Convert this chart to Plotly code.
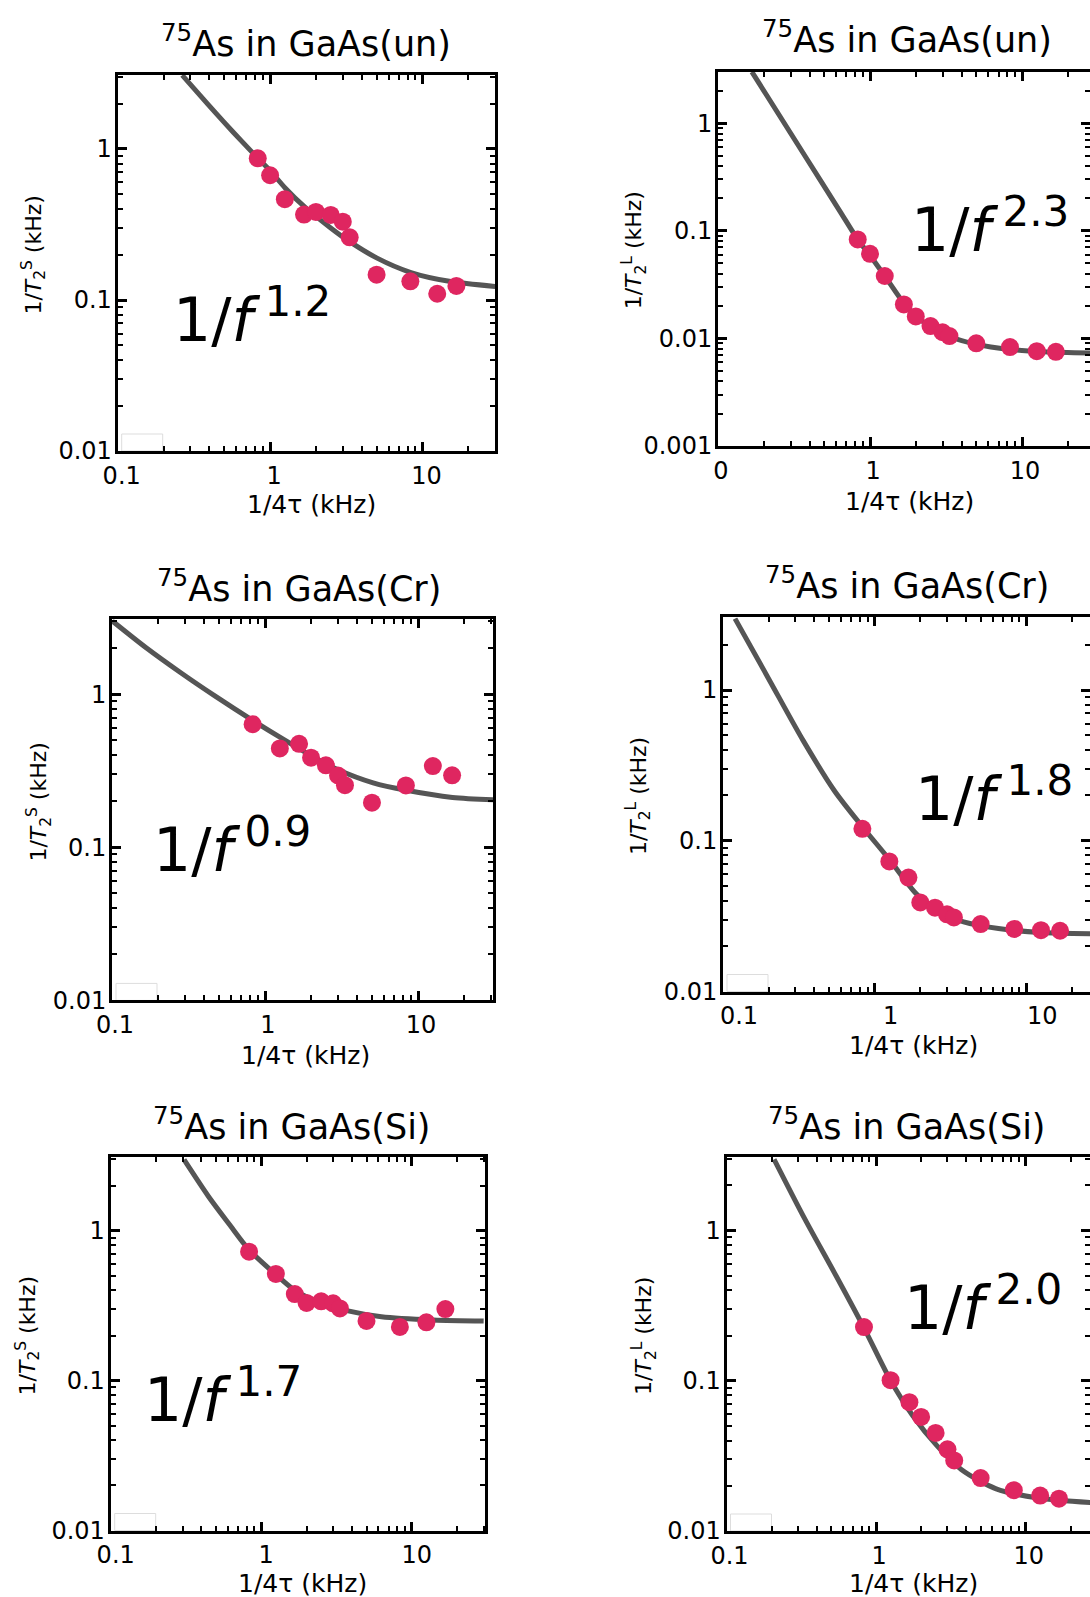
import plotly.graph_objects as go

W, H = 1090, 1597
FONT = "DejaVu Sans"
RED = "#DF2660"
GRAY = "#555555"

# ---------------- data ----------------
f_un = [0.83, 1.0, 1.25, 1.67, 2.0, 2.5, 3.0, 3.33, 5.0, 8.33, 12.5, 16.7]
f_dop = [0.83, 1.25, 1.67, 2.0, 2.5, 3.0, 3.33, 5.0, 8.33, 12.5, 16.7]

un_S = [0.867, 0.67, 0.465, 0.368, 0.383, 0.366, 0.33, 0.26, 0.147, 0.133, 0.110, 0.124]
un_L = [0.083, 0.061, 0.038, 0.0207, 0.016, 0.013, 0.0114, 0.0105, 0.009, 0.0083, 0.0076, 0.0075]
cr_S = [0.638, 0.443, 0.475, 0.386, 0.344, 0.295, 0.255, 0.196, 0.254, 0.34, 0.296]
cr_L = [0.12, 0.073, 0.057, 0.039, 0.036, 0.0325, 0.031, 0.028, 0.026, 0.0255, 0.0253]
si_S = [0.725, 0.515, 0.378, 0.33, 0.338, 0.328, 0.303, 0.25, 0.228, 0.245, 0.30]
si_L = [0.228, 0.101, 0.072, 0.0575, 0.045, 0.035, 0.0295, 0.0225, 0.0187, 0.0172, 0.0164]

# fitted curves
fit_un_S_x = [0.265, 0.39, 0.5, 0.66, 0.83, 1.0, 1.26, 1.7, 2.5, 3.2, 5.0, 8.4, 15, 30]
fit_un_S_y = [3.08, 1.98, 1.5, 1.11, 0.87, 0.72, 0.55, 0.41, 0.30, 0.25, 0.19, 0.152, 0.133, 0.123]
fit_un_L_x = [0.167, 0.37, 0.63, 0.83, 1.0, 1.25, 1.67, 2.0, 2.5, 3.33, 5.0, 8.3, 14, 28]
fit_un_L_y = [3.0, 0.506, 0.154, 0.083, 0.059, 0.038, 0.0212, 0.0163, 0.0128, 0.0104, 0.0088, 0.0079, 0.0075, 0.0073]
fit_cr_S_x = [0.1, 0.168, 0.283, 0.478, 0.83, 1.25, 2.1, 2.95, 5.09, 8.4, 16.8, 31]
fit_cr_S_y = [3.03, 2.01, 1.38, 0.966, 0.676, 0.525, 0.387, 0.324, 0.264, 0.236, 0.212, 0.205]
fit_cr_L_x = [0.12, 0.199, 0.338, 0.544, 0.83, 1.26, 1.84, 2.52, 3.86, 6.55, 12.4, 27]
fit_cr_L_y = [2.98, 1.20, 0.462, 0.214, 0.124, 0.0744, 0.0456, 0.0344, 0.029, 0.0262, 0.0246, 0.0242]
fit_si_S_x = [0.307, 0.445, 0.611, 0.83, 1.25, 1.67, 2.48, 3.7, 6.28, 13.9, 30]
fit_si_S_y = [2.98, 1.70, 1.11, 0.746, 0.51, 0.40, 0.33, 0.293, 0.267, 0.254, 0.25]
fit_si_L_x = [0.208, 0.333, 0.54, 0.83, 1.24, 1.75, 2.55, 3.71, 6.35, 12.1, 27]
fit_si_L_y = [2.98, 1.2, 0.5, 0.225, 0.102, 0.059, 0.037, 0.0257, 0.0191, 0.0166, 0.0155]

titles = ["<sup>75</sup>As in GaAs(un)", "<sup>75</sup>As in GaAs(un)",
          "<sup>75</sup>As in GaAs(Cr)", "<sup>75</sup>As in GaAs(Cr)",
          "<sup>75</sup>As in GaAs(Si)", "<sup>75</sup>As in GaAs(Si)"]
exponents = ["1.2", "2.3", "0.9", "1.8", "1.7", "2.0"]
ylabel_S = "1/<i>T</i><sub>2</sub><sup>S</sup> (kHz)"
ylabel_L = "1/<i>T</i><sub>2</sub><sup>L</sup> (kHz)"
xlabel = "1/4τ (kHz)"

x_tickvals = [0.1, 1, 10]
x_ticktext = ["0.1", "1", "10"]
x_ticktext_TR = ["0", "1", "10"]

# ---------------- layout geometry (pixels) ----------------
panels = [
    dict(box=(117.7, 495, 75, 451), xr=[-1, 1.476], yr=[-2, 0.49], shift=4),
    dict(box=(718, 1090, 71.5, 446), xr=[-1, 1.447], yr=[-3, 0.48], shift=3),
    dict(box=(112, 493, 619.4, 1000.4), xr=[-1, 1.49], yr=[-2, 0.49], shift=3),
    dict(box=(723, 1090, 617.3, 991.5), xr=[-1, 1.42], yr=[-2, 0.483], shift=16),
    dict(box=(110.7, 485, 1157.3, 1530.5), xr=[-1, 1.486], yr=[-2, 0.49], shift=5),
    dict(box=(726.5, 1090, 1157.3, 1531), xr=[-1, 1.43], yr=[-2, 0.488], shift=3),
]
text_pos = [(252, 315.8), (990, 226), (232, 845.6), (994, 794.6), (223, 1395.6), (983, 1304)]
title_pos = [(305.6, 40.7), (906.6, 36.7), (298.5, 585.7), (906.6, 582.7), (292.4, 1123.6), (906.6, 1123.6)]
xtitle_pos = [(311, 505), (909.7, 502), (305.6, 1055), (913.8, 1045), (302.5, 1583), (913.8, 1583)]
ytitle_x = [33.6, 633.6, 38.7, 638.7, 27.5, 643.8]

series = [
    (f_un, un_S, fit_un_S_x, fit_un_S_y),
    (f_un, un_L, fit_un_L_x, fit_un_L_y),
    (f_dop, cr_S, fit_cr_S_x, fit_cr_S_y),
    (f_dop, cr_L, fit_cr_L_x, fit_cr_L_y),
    (f_dop, si_S, fit_si_S_x, fit_si_S_y),
    (f_dop, si_L, fit_si_L_x, fit_si_L_y),
]


def minor_vals(lo, hi):
    vals = []
    for e in range(lo, hi + 1):
        for m in range(2, 10):
            vals.append(m * 10 ** e)
    return vals


fig = go.Figure()
layout = {}
annotations = []
shapes = []


def px(x):
    return x / W


def py(y):
    return 1 - y / H


for i, (p, s) in enumerate(zip(panels, series)):
    n = i + 1
    xa = "xaxis" if n == 1 else f"xaxis{n}"
    ya = "yaxis" if n == 1 else f"yaxis{n}"
    xr_ = "x" if n == 1 else f"x{n}"
    yr_ = "y" if n == 1 else f"y{n}"
    x0, x1, y0, y1 = p["box"]
    right = (i % 2 == 1)
    fx, fy, cx, cy = s

    fig.add_trace(go.Scatter(x=cx, y=cy, mode="lines",
                             line=dict(color=GRAY, width=5, shape="spline", smoothing=0.8),
                             xaxis=xr_, yaxis=yr_, showlegend=False, hoverinfo="skip"))
    fig.add_trace(go.Scatter(x=fx, y=fy, mode="markers",
                             marker=dict(color=RED, size=18, line=dict(width=0)),
                             xaxis=xr_, yaxis=yr_, showlegend=False, cliponaxis=False))

    common = dict(type="log", showline=True, linecolor="black", linewidth=3, mirror="allticks",
                  ticks="inside", ticklen=9, tickwidth=2.5, tickcolor="black", showgrid=False,
                  zeroline=False, automargin=False,
                  tickfont=dict(family=FONT, size=24, color="black"))
    ylo = int(round(p["yr"][0]))
    if i == 1:
        ytv = [0.001, 0.01, 0.1, 1]
        ytt = ["0.001", "0.01", "0.1", "1"]
    else:
        ytv = [0.01, 0.1, 1]
        ytt = ["0.01", "0.1", "1"]
    layout[xa] = dict(common, domain=[px(x0), px(x1)], anchor=yr_, range=p["xr"],
                      tickmode="array", tickvals=x_tickvals,
                      ticktext=x_ticktext_TR if i == 1 else x_ticktext,
                      ticklabelshift=p["shift"], ticklabelstandoff=1,
                      minor=dict(ticks="inside", ticklen=5, tickwidth=2, tickcolor="black",
                                 tickmode="array", tickvals=minor_vals(-1, 1), showgrid=False))
    layout[ya] = dict(common, domain=[py(y1), py(y0)], anchor=xr_, range=p["yr"],
                      tickmode="array", tickvals=ytv, ticktext=ytt, ticklabelstandoff=-2,
                      minor=dict(ticks="inside", ticklen=5, tickwidth=2, tickcolor="black",
                                 tickmode="array", tickvals=minor_vals(ylo, 0), showgrid=False))

    tx, ty = title_pos[i]
    annotations.append(dict(text=titles[i], x=px(tx), y=py(ty), xref="paper", yref="paper",
                            showarrow=False, xanchor="center", yanchor="middle",
                            font=dict(family=FONT, size=35, color="black")))
    xx, xy = xtitle_pos[i]
    annotations.append(dict(text=xlabel, x=px(xx), y=py(xy), xref="paper", yref="paper",
                            showarrow=False, xanchor="center", yanchor="middle",
                            font=dict(family=FONT, size=25, color="black")))
    annotations.append(dict(text=ylabel_L if right else ylabel_S, x=px(ytitle_x[i]),
                            y=py((y0 + y1) / 2 - 8), xref="paper", yref="paper",
                            showarrow=False, textangle=-90, xanchor="center", yanchor="middle",
                            font=dict(family=FONT, size=22, color="black")))
    ax_, ay_ = text_pos[i]
    annotations.append(dict(text="1/<i>f</i>\u2009<sup>" + exponents[i] + "</sup>", x=px(ax_), y=py(ay_),
                            xref="paper", yref="paper", showarrow=False,
                            xanchor="center", yanchor="middle",
                            font=dict(family=FONT, size=60, color="black")))
    if i != 1:
        shapes.append(dict(type="rect", xref="paper", yref="paper",
                           x0=px(x0 + 4), x1=px(x0 + 45), y0=py(y1), y1=py(y1 - 17),
                           line=dict(color="#dddddd", width=1), fillcolor="rgba(0,0,0,0)",
                           layer="below"))

fig.update_layout(**layout)
fig.update_layout(width=W, height=H, margin=dict(l=0, r=0, t=0, b=0, autoexpand=False),
                  paper_bgcolor="white", plot_bgcolor="white", template="none",
                  annotations=annotations, shapes=shapes, showlegend=False,
                  font=dict(family=FONT, color="black"))
fig.write_html("out.html", config={"displayModeBar": False},
               post_script="document.body.style.margin='0';document.body.style.overflow='hidden';")
